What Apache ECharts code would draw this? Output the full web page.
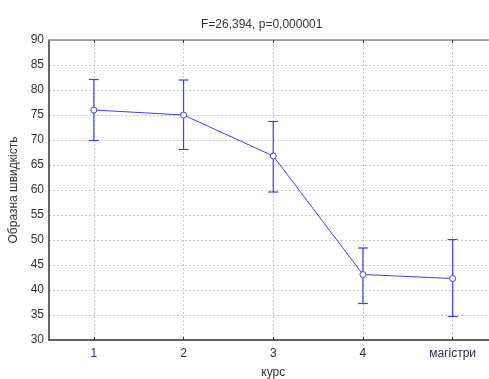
<!DOCTYPE html>
<html>
<head>
<meta charset="utf-8">
<script src="https://cdn.jsdelivr.net/npm/echarts@6/dist/echarts.min.js"></script>
<style>
  html, body { margin: 0; padding: 0; background: #fff; }
  #chart { width: 489px; height: 379px; }
</style>
</head>
<body>
<div id="chart"></div>
<script>
// Course groups and their means with confidence limits
var categories = ['1', '2', '3', '4', 'магістри'];
var means = [76.0, 75.0, 66.8, 43.1, 42.3];
var upper = [82.1, 82.0, 73.7, 48.4, 50.1];
var lower = [69.9, 68.1, 59.6, 37.3, 34.7];
var yTicks = [30, 35, 40, 45, 50, 55, 60, 65, 70, 75, 80, 85, 90];

var FONT = '"Liberation Sans", Arial, sans-serif';
var FS = 12;
var BLUE = '#3d3dff';
var GRID_LINE = { show: true, interval: 0, alignWithLabel: true, lineStyle: { color: '#c8c8c8', type: [2, 2] } };

var errorData = categories.map(function (c, i) { return [i, lower[i], upper[i]]; });

var chart = echarts.init(document.getElementById('chart'), null, { renderer: 'canvas' });
chart.setOption({
  animation: false,
  title: {
    text: 'F=26,394, p=0,000001',
    left: 196, top: 14,
    textStyle: { fontFamily: FONT, fontSize: FS, fontWeight: 'normal', color: '#333' }
  },
  grid: {
    left: 49, top: 40, width: 448.5, height: 300,
    outerBoundsMode: 'none', containLabel: false,
    show: false
  },
  xAxis: [
    {
      type: 'category', data: categories, boundaryGap: true, position: 'bottom',
      name: 'курс', nameLocation: 'middle', nameGap: 27,
      nameTextStyle: { fontFamily: FONT, fontSize: FS, color: '#333' },
      axisLine: { lineStyle: { color: '#333', width: 1.5 } },
      axisTick: { show: true, inside: true, length: 3, alignWithLabel: true, lineStyle: { color: '#333' } },
      axisLabel: { fontFamily: FONT, fontSize: FS, color: '#2b2b55', margin: 8 },
      splitLine: GRID_LINE
    },
    {
      type: 'category', data: categories, boundaryGap: true, position: 'top',
      axisLine: { show: true, lineStyle: { color: '#8a8a8a', width: 1.5 } },
      axisTick: { show: true, inside: true, length: 3, alignWithLabel: true, lineStyle: { color: '#333' } },
      axisLabel: { show: false },
      splitLine: { show: false }
    }
  ],
  yAxis: {
    type: 'value', min: yTicks[0], max: yTicks[yTicks.length - 1], interval: 5,
    name: 'Образна швидкість', nameLocation: 'middle', nameGap: 27, nameRotate: 90,
    nameTextStyle: { fontFamily: FONT, fontSize: FS, color: '#333' },
    axisLine: { show: true, lineStyle: { color: '#333', width: 1.5 } },
    axisTick: { show: false },
    axisLabel: { fontFamily: FONT, fontSize: FS, color: '#333', margin: 5 },
    splitLine: { show: true, lineStyle: { color: '#c8c8c8', type: [2, 2] } }
  },
  series: [
    {
      type: 'custom',
      data: errorData,
      z: 3,
      renderItem: function (params, api) {
        var x = api.value(0);
        var lo = api.coord([x, api.value(1)]);
        var hi = api.coord([x, api.value(2)]);
        var w = 5;
        var style = { stroke: BLUE, lineWidth: 1.2, fill: null };
        return {
          type: 'group',
          children: [
            { type: 'line', shape: { x1: hi[0], y1: hi[1], x2: lo[0], y2: lo[1] }, style: style },
            { type: 'line', shape: { x1: hi[0] - w, y1: hi[1], x2: hi[0] + w, y2: hi[1] }, style: style },
            { type: 'line', shape: { x1: lo[0] - w, y1: lo[1], x2: lo[0] + w, y2: lo[1] }, style: style }
          ]
        };
      }
    },
    {
      type: 'line',
      data: means,
      z: 4,
      symbol: 'circle', symbolSize: 6,
      lineStyle: { color: BLUE, width: 1 },
      itemStyle: { color: '#fff', borderColor: BLUE, borderWidth: 1 }
    }
  ]
});
</script>
</body>
</html>
